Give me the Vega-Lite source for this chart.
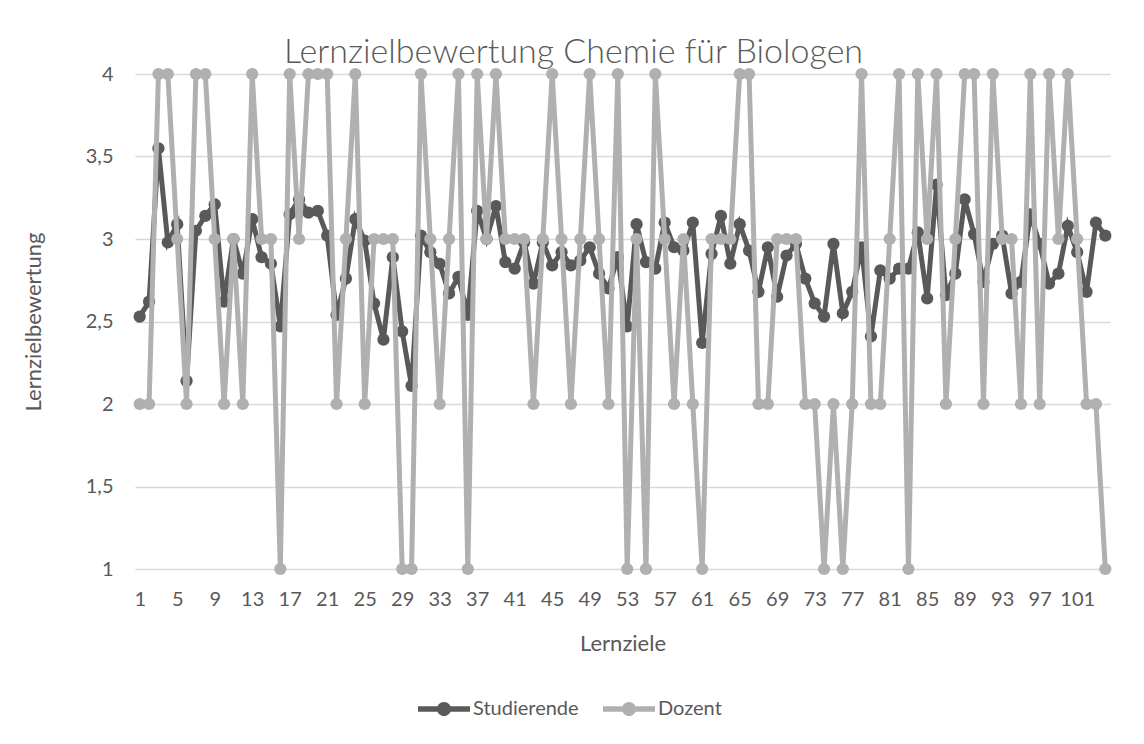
{
  "$schema": "https://vega.github.io/schema/vega-lite/v6.json",
  "width": 975,
  "height": 495,
  "autosize": {"type": "none"},
  "padding": {"left": 135, "top": 74, "right": 34, "bottom": 175},
  "background": "white",
  "title": {"text": "Lernzielbewertung Chemie für Biologen", "fontSize": 34, "font": "Lato", "fontWeight": 300, "color": "#595959", "dx": -49, "offset": -33, "baseline": "alphabetic"},
  "config": {"view": {"stroke": null}, "font": "Lato"},
  "data": {"values": [
    {"lz":1,"Studierende":2.53,"Dozent":2},{"lz":2,"Studierende":2.62,"Dozent":2},{"lz":3,"Studierende":3.55,"Dozent":4},{"lz":4,"Studierende":2.98,"Dozent":4},
    {"lz":5,"Studierende":3.09,"Dozent":3},{"lz":6,"Studierende":2.14,"Dozent":2},{"lz":7,"Studierende":3.05,"Dozent":4},{"lz":8,"Studierende":3.14,"Dozent":4},
    {"lz":9,"Studierende":3.21,"Dozent":3},{"lz":10,"Studierende":2.62,"Dozent":2},{"lz":11,"Studierende":3.0,"Dozent":3},{"lz":12,"Studierende":2.79,"Dozent":2},
    {"lz":13,"Studierende":3.12,"Dozent":4},{"lz":14,"Studierende":2.89,"Dozent":3},{"lz":15,"Studierende":2.85,"Dozent":3},{"lz":16,"Studierende":2.47,"Dozent":1},
    {"lz":17,"Studierende":3.15,"Dozent":4},{"lz":18,"Studierende":3.24,"Dozent":3},{"lz":19,"Studierende":3.16,"Dozent":4},{"lz":20,"Studierende":3.17,"Dozent":4},
    {"lz":21,"Studierende":3.02,"Dozent":4},{"lz":22,"Studierende":2.54,"Dozent":2},{"lz":23,"Studierende":2.76,"Dozent":3},{"lz":24,"Studierende":3.12,"Dozent":4},
    {"lz":25,"Studierende":2.99,"Dozent":2},{"lz":26,"Studierende":2.61,"Dozent":3},{"lz":27,"Studierende":2.39,"Dozent":3},{"lz":28,"Studierende":2.89,"Dozent":3},
    {"lz":29,"Studierende":2.44,"Dozent":1},{"lz":30,"Studierende":2.11,"Dozent":1},{"lz":31,"Studierende":3.02,"Dozent":4},{"lz":32,"Studierende":2.92,"Dozent":3},
    {"lz":33,"Studierende":2.85,"Dozent":2},{"lz":34,"Studierende":2.67,"Dozent":3},{"lz":35,"Studierende":2.77,"Dozent":4},{"lz":36,"Studierende":2.54,"Dozent":1},
    {"lz":37,"Studierende":3.17,"Dozent":4},{"lz":38,"Studierende":3.0,"Dozent":3},{"lz":39,"Studierende":3.2,"Dozent":4},{"lz":40,"Studierende":2.86,"Dozent":3},
    {"lz":41,"Studierende":2.82,"Dozent":3},{"lz":42,"Studierende":2.98,"Dozent":3},{"lz":43,"Studierende":2.73,"Dozent":2},{"lz":44,"Studierende":2.98,"Dozent":3},
    {"lz":45,"Studierende":2.84,"Dozent":4},{"lz":46,"Studierende":2.92,"Dozent":3},{"lz":47,"Studierende":2.84,"Dozent":2},{"lz":48,"Studierende":2.87,"Dozent":3},
    {"lz":49,"Studierende":2.95,"Dozent":4},{"lz":50,"Studierende":2.79,"Dozent":3},{"lz":51,"Studierende":2.7,"Dozent":2},{"lz":52,"Studierende":2.89,"Dozent":4},
    {"lz":53,"Studierende":2.47,"Dozent":1},{"lz":54,"Studierende":3.09,"Dozent":3},{"lz":55,"Studierende":2.86,"Dozent":1},{"lz":56,"Studierende":2.82,"Dozent":4},
    {"lz":57,"Studierende":3.1,"Dozent":3},{"lz":58,"Studierende":2.95,"Dozent":2},{"lz":59,"Studierende":2.93,"Dozent":3},{"lz":60,"Studierende":3.1,"Dozent":2},
    {"lz":61,"Studierende":2.37,"Dozent":1},{"lz":62,"Studierende":2.91,"Dozent":3},{"lz":63,"Studierende":3.14,"Dozent":3},{"lz":64,"Studierende":2.85,"Dozent":3},
    {"lz":65,"Studierende":3.09,"Dozent":4},{"lz":66,"Studierende":2.93,"Dozent":4},{"lz":67,"Studierende":2.68,"Dozent":2},{"lz":68,"Studierende":2.95,"Dozent":2},
    {"lz":69,"Studierende":2.65,"Dozent":3},{"lz":70,"Studierende":2.9,"Dozent":3},{"lz":71,"Studierende":2.97,"Dozent":3},{"lz":72,"Studierende":2.76,"Dozent":2},
    {"lz":73,"Studierende":2.61,"Dozent":2},{"lz":74,"Studierende":2.53,"Dozent":1},{"lz":75,"Studierende":2.97,"Dozent":2},{"lz":76,"Studierende":2.55,"Dozent":1},
    {"lz":77,"Studierende":2.68,"Dozent":2},{"lz":78,"Studierende":2.95,"Dozent":4},{"lz":79,"Studierende":2.41,"Dozent":2},{"lz":80,"Studierende":2.81,"Dozent":2},
    {"lz":81,"Studierende":2.76,"Dozent":3},{"lz":82,"Studierende":2.82,"Dozent":4},{"lz":83,"Studierende":2.82,"Dozent":1},{"lz":84,"Studierende":3.04,"Dozent":4},
    {"lz":85,"Studierende":2.64,"Dozent":3},{"lz":86,"Studierende":3.33,"Dozent":4},{"lz":87,"Studierende":2.66,"Dozent":2},{"lz":88,"Studierende":2.79,"Dozent":3},
    {"lz":89,"Studierende":3.24,"Dozent":4},{"lz":90,"Studierende":3.03,"Dozent":4},{"lz":91,"Studierende":2.74,"Dozent":2},{"lz":92,"Studierende":2.97,"Dozent":4},
    {"lz":93,"Studierende":3.02,"Dozent":3},{"lz":94,"Studierende":2.67,"Dozent":3},{"lz":95,"Studierende":2.74,"Dozent":2},{"lz":96,"Studierende":3.15,"Dozent":4},
    {"lz":97,"Studierende":2.97,"Dozent":2},{"lz":98,"Studierende":2.73,"Dozent":4},{"lz":99,"Studierende":2.79,"Dozent":3},{"lz":100,"Studierende":3.08,"Dozent":4},
    {"lz":101,"Studierende":2.92,"Dozent":3},{"lz":102,"Studierende":2.68,"Dozent":2},{"lz":103,"Studierende":3.1,"Dozent":2},{"lz":104,"Studierende":3.02,"Dozent":1}
  ]},
  "encoding": {
    "x": {"field": "lz", "type": "quantitative",
      "scale": {"domain": [0.5, 104.5], "nice": false, "zero": false},
      "axis": {"values": [1,5,9,13,17,21,25,29,33,37,41,45,49,53,57,61,65,69,73,77,81,85,89,93,97,101],
        "title": "Lernziele", "grid": false, "ticks": false, "domain": false,
        "labelFontSize": 20, "labelColor": "#595959", "labelPadding": 20, "labelFont": "Lato",
        "titleFontSize": 22, "titleColor": "#595959", "titleFontWeight": "normal", "titlePadding": 24, "titleFont": "Lato"}}
  },
  "layer": [
    {
      "mark": {"type": "line", "strokeWidth": 5, "point": {"filled": true, "size": 150, "opacity": 1}},
      "encoding": {
        "y": {"field": "Studierende", "type": "quantitative",
          "scale": {"domain": [1, 4], "nice": false, "zero": false},
          "axis": {"values": [1,1.5,2,2.5,3,3.5,4], "labelExpr": "replace(format(datum.value, '~g'), '.', ',')",
            "title": "Lernzielbewertung", "grid": true, "gridColor": "#d9d9d9", "gridWidth": 1.3,
            "ticks": false, "domain": false, "labelFontSize": 20, "labelColor": "#595959", "labelPadding": 22, "labelFont": "Lato",
            "titleFontSize": 22, "titleColor": "#595959", "titleFontWeight": "normal", "titlePadding": 40, "titleFont": "Lato"}},
        "color": {"datum": "Studierende", "type": "nominal",
          "scale": {"domain": ["Studierende", "Dozent"], "range": ["#595959", "#b0b0b0"]},
          "legend": {"orient": "none", "legendX": 283, "legendY": 609, "direction": "horizontal", "title": null,
            "symbolType": "M -1 -0.11 L 1 -0.11 L 1 0.11 L -1 0.11 Z M 0.27 0 A 0.27 0.27 0 1 1 -0.27 0 A 0.27 0.27 0 1 1 0.27 0 Z",
            "symbolSize": 2704, "symbolStrokeWidth": 0, "labelFontSize": 20, "labelColor": "#595959", "labelFont": "Lato",
            "labelOffset": 3, "columnPadding": 24,
            "encode": {"symbols": {"update": {"fill": {"scale": "color", "field": "value"}, "stroke": {"value": "transparent"}, "opacity": {"value": 1}}}}}}
      }
    },
    {
      "mark": {"type": "line", "strokeWidth": 5, "point": {"filled": true, "size": 150, "opacity": 1}},
      "encoding": {
        "y": {"field": "Dozent", "type": "quantitative"},
        "color": {"datum": "Dozent", "type": "nominal"}
      }
    }
  ]
}
